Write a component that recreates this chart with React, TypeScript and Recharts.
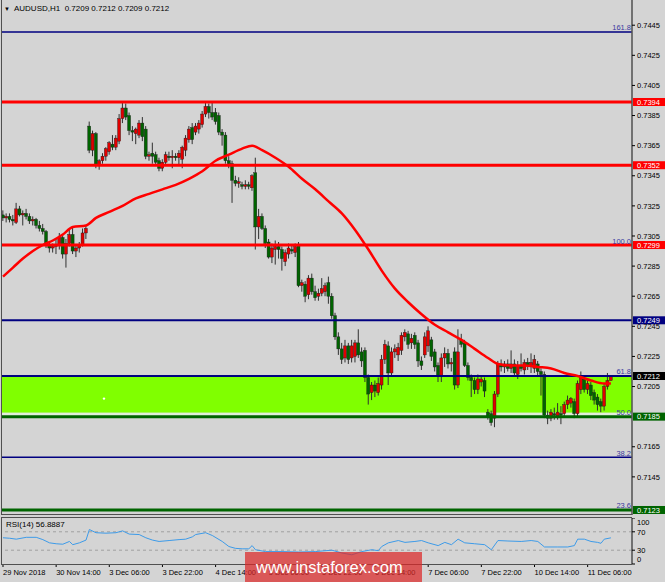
import {
  ComposedChart,
  LineChart,
  Bar,
  Line,
  XAxis,
  YAxis,
  ReferenceLine,
  ReferenceArea,
  ReferenceDot
} from 'recharts'

// AUDUSD H1 candles, 29 Nov 22:00 .. 11 Dec 11:00
const opens = [
  0.7319, 0.7317, 0.7318, 0.7316, 0.7314, 0.7323, 0.7319, 0.7320, 0.7318, 0.7315,
  0.7316, 0.7312, 0.7310, 0.7308, 0.7299, 0.7297, 0.7298, 0.7299, 0.7304, 0.7293,
  0.7300, 0.7306, 0.7295, 0.7297, 0.7299, 0.7307, 0.7378, 0.7362, 0.7373, 0.7352,
  0.7355, 0.7358, 0.7361, 0.7366, 0.7364, 0.7368, 0.7383, 0.7390, 0.7385, 0.7375,
  0.7373, 0.7372, 0.7380, 0.7376, 0.7358, 0.7360, 0.7359, 0.7355, 0.7350, 0.7354,
  0.7358, 0.7357, 0.7358, 0.7357, 0.7356, 0.7362, 0.7369, 0.7377, 0.7374, 0.7376,
  0.7379, 0.7386, 0.7391, 0.7387, 0.7387, 0.7385, 0.7374, 0.7372, 0.7355, 0.7353,
  0.7342, 0.7340, 0.7339, 0.7338, 0.7339, 0.7337, 0.7347, 0.7311, 0.7318, 0.7310,
  0.7301, 0.7291, 0.7296, 0.7298, 0.7296, 0.7288, 0.7293, 0.7296, 0.7294, 0.7299,
  0.7272, 0.7273, 0.7266, 0.7277, 0.7268, 0.7265, 0.7267, 0.7268, 0.7274, 0.7265,
  0.7252, 0.7238, 0.7230, 0.7224, 0.7232, 0.7224, 0.7225, 0.7234, 0.7228, 0.7229,
  0.7211, 0.7201, 0.7206, 0.7201, 0.7206, 0.7223, 0.7232, 0.7214, 0.7228, 0.7226,
  0.7229, 0.7238, 0.7240, 0.7234, 0.7239, 0.7234, 0.7222, 0.7226, 0.7232, 0.7236,
  0.7228, 0.7219, 0.7212, 0.7224, 0.7227, 0.7220, 0.7228, 0.7206, 0.7236, 0.7234,
  0.7219, 0.7211, 0.7209, 0.7203, 0.7208, 0.7209, 0.7188, 0.7187, 0.7184, 0.7200,
  0.7220, 0.7218, 0.7220, 0.7217, 0.7220, 0.7213, 0.7219, 0.7216, 0.7221, 0.7219,
  0.7217, 0.7220, 0.7215, 0.7213, 0.7186, 0.7184, 0.7187, 0.7185, 0.7187, 0.7187,
  0.7193, 0.7194, 0.7195, 0.7187, 0.7203, 0.7210, 0.7203, 0.7206, 0.7201, 0.7198,
  0.7195, 0.7192, 0.7205, 0.7209
]
const highs = [
  0.7322, 0.7320, 0.7320, 0.7319, 0.7327, 0.7325, 0.7322, 0.7323, 0.7320, 0.7318,
  0.7317, 0.7315, 0.7313, 0.7309, 0.7301, 0.7300, 0.7303, 0.7307, 0.7306, 0.7303,
  0.7309, 0.7311, 0.7299, 0.7301, 0.7310, 0.7312, 0.7381, 0.7375, 0.7374, 0.7356,
  0.7360, 0.7364, 0.7368, 0.7372, 0.7372, 0.7386, 0.7394, 0.7393, 0.7387, 0.7378,
  0.7377, 0.7382, 0.7384, 0.7378, 0.7361, 0.7367, 0.7361, 0.7357, 0.7356, 0.7361,
  0.7361, 0.7362, 0.7360, 0.7362, 0.7365, 0.7372, 0.7378, 0.7380, 0.7380, 0.7382,
  0.7388, 0.7394, 0.7393, 0.7394, 0.7390, 0.7387, 0.7376, 0.7374, 0.7358, 0.7355,
  0.7345, 0.7344, 0.7341, 0.7342, 0.7341, 0.7346, 0.7357, 0.7323, 0.7320, 0.7312,
  0.7303, 0.7300, 0.7302, 0.7301, 0.7298, 0.7296, 0.7300, 0.7299, 0.7300, 0.7301,
  0.7276, 0.7275, 0.7279, 0.7280, 0.7272, 0.7270, 0.7277, 0.7274, 0.7278, 0.7267,
  0.7254, 0.7241, 0.7234, 0.7236, 0.7234, 0.7236, 0.7236, 0.7243, 0.7231, 0.7231,
  0.7213, 0.7208, 0.7209, 0.7211, 0.7226, 0.7236, 0.7235, 0.7231, 0.7233, 0.7234,
  0.7241, 0.7243, 0.7242, 0.7240, 0.7241, 0.7236, 0.7225, 0.7241, 0.7245, 0.7238,
  0.7230, 0.7221, 0.7227, 0.7231, 0.7230, 0.7224, 0.7231, 0.7243, 0.7240, 0.7236,
  0.7221, 0.7213, 0.7211, 0.7213, 0.7212, 0.7211, 0.7190, 0.7189, 0.7202, 0.7222,
  0.7223, 0.7222, 0.7223, 0.7229, 0.7223, 0.7222, 0.7227, 0.7223, 0.7224, 0.7227,
  0.7226, 0.7222, 0.7217, 0.7215, 0.7189, 0.7190, 0.7191, 0.7194, 0.7192, 0.7195,
  0.7199, 0.7198, 0.7197, 0.7209, 0.7215, 0.7212, 0.7209, 0.7208, 0.7203, 0.7200,
  0.7197, 0.7207, 0.7214, 0.7212
]
const lows = [
  0.7315, 0.7314, 0.7314, 0.7312, 0.7313, 0.7318, 0.7312, 0.7316, 0.7313, 0.7312,
  0.7310, 0.7308, 0.7306, 0.7297, 0.7294, 0.7294, 0.7293, 0.7296, 0.7290, 0.7284,
  0.7298, 0.7293, 0.7291, 0.7294, 0.7298, 0.7303, 0.7360, 0.7358, 0.7350, 0.7349,
  0.7353, 0.7355, 0.7359, 0.7362, 0.7362, 0.7366, 0.7380, 0.7382, 0.7372, 0.7368,
  0.7366, 0.7370, 0.7368, 0.7356, 0.7355, 0.7353, 0.7352, 0.7348, 0.7348, 0.7352,
  0.7355, 0.7350, 0.7355, 0.7352, 0.7350, 0.7358, 0.7367, 0.7366, 0.7372, 0.7373,
  0.7377, 0.7384, 0.7383, 0.7382, 0.7379, 0.7372, 0.7365, 0.7353, 0.7350, 0.7327,
  0.7338, 0.7337, 0.7336, 0.7336, 0.7336, 0.7335, 0.7296, 0.7303, 0.7309, 0.7297,
  0.7290, 0.7287, 0.7286, 0.7290, 0.7282, 0.7285, 0.7290, 0.7293, 0.7291, 0.7271,
  0.7268, 0.7261, 0.7263, 0.7266, 0.7262, 0.7262, 0.7265, 0.7265, 0.7260, 0.7250,
  0.7236, 0.7226, 0.7220, 0.7221, 0.7220, 0.7221, 0.7221, 0.7224, 0.7218, 0.7208,
  0.7193, 0.7196, 0.7198, 0.7199, 0.7203, 0.7220, 0.7206, 0.7212, 0.7224, 0.7222,
  0.7226, 0.7235, 0.7230, 0.7230, 0.7230, 0.7218, 0.7216, 0.7224, 0.7228, 0.7222,
  0.7215, 0.7208, 0.7208, 0.7218, 0.7217, 0.7215, 0.7203, 0.7204, 0.7231, 0.7218,
  0.7209, 0.7198, 0.7200, 0.7200, 0.7205, 0.7198, 0.7183, 0.7179, 0.7178, 0.7198,
  0.7215, 0.7214, 0.7215, 0.7214, 0.7212, 0.7210, 0.7215, 0.7213, 0.7216, 0.7214,
  0.7214, 0.7212, 0.7199, 0.7184, 0.7180, 0.7182, 0.7183, 0.7183, 0.7180, 0.7185,
  0.7190, 0.7191, 0.7184, 0.7185, 0.7200, 0.7201, 0.7200, 0.7196, 0.7193, 0.7189,
  0.7188, 0.7189, 0.7203, 0.7209
]
const closes = [
  0.7317, 0.7318, 0.7316, 0.7315, 0.7323, 0.7319, 0.7320, 0.7318, 0.7315, 0.7316,
  0.7312, 0.7310, 0.7308, 0.7299, 0.7297, 0.7298, 0.7299, 0.7304, 0.7293, 0.7300,
  0.7306, 0.7295, 0.7297, 0.7299, 0.7307, 0.7310, 0.7362, 0.7373, 0.7352, 0.7355,
  0.7358, 0.7363, 0.7367, 0.7364, 0.7370, 0.7383, 0.7390, 0.7384, 0.7375, 0.7374,
  0.7376, 0.7380, 0.7371, 0.7358, 0.7359, 0.7358, 0.7354, 0.7350, 0.7354, 0.7359,
  0.7357, 0.7358, 0.7357, 0.7360, 0.7364, 0.7370, 0.7376, 0.7369, 0.7378, 0.7380,
  0.7386, 0.7391, 0.7387, 0.7384, 0.7381, 0.7374, 0.7372, 0.7355, 0.7353, 0.7342,
  0.7340, 0.7341, 0.7338, 0.7339, 0.7338, 0.7345, 0.7311, 0.7318, 0.7310, 0.7300,
  0.7291, 0.7297, 0.7298, 0.7296, 0.7290, 0.7294, 0.7297, 0.7295, 0.7298, 0.7272,
  0.7274, 0.7265, 0.7277, 0.7268, 0.7264, 0.7267, 0.7270, 0.7272, 0.7265, 0.7252,
  0.7238, 0.7230, 0.7223, 0.7232, 0.7223, 0.7232, 0.7234, 0.7226, 0.7222, 0.7211,
  0.7200, 0.7206, 0.7202, 0.7207, 0.7223, 0.7233, 0.7214, 0.7228, 0.7230, 0.7231,
  0.7239, 0.7241, 0.7233, 0.7237, 0.7233, 0.7222, 0.7219, 0.7238, 0.7242, 0.7225,
  0.7218, 0.7212, 0.7224, 0.7227, 0.7220, 0.7221, 0.7206, 0.7228, 0.7233, 0.7219,
  0.7211, 0.7209, 0.7203, 0.7210, 0.7210, 0.7202, 0.7185, 0.7181, 0.7200, 0.7220,
  0.7218, 0.7220, 0.7217, 0.7220, 0.7214, 0.7219, 0.7217, 0.7221, 0.7219, 0.7221,
  0.7223, 0.7215, 0.7213, 0.7186, 0.7184, 0.7188, 0.7186, 0.7188, 0.7186, 0.7193,
  0.7196, 0.7197, 0.7187, 0.7207, 0.7211, 0.7203, 0.7207, 0.7199, 0.7196, 0.7193,
  0.7192, 0.7205, 0.7209, 0.7212
]

// red moving average, read every few bars
const maIdx = [
  0, 3, 6, 9, 12, 15, 18, 21, 25, 28, 32, 36, 40, 44, 48, 52, 56, 60, 64, 68,
  72, 75, 78, 82, 86, 90, 94, 98, 102, 106, 110, 114, 118, 122, 126, 130, 134, 138, 142, 146,
  149, 153, 157, 161, 165, 169, 173, 177, 181, 183
]
const maVals = [
  0.7278, 0.7284, 0.7290, 0.7295, 0.7299, 0.7302, 0.7306, 0.7311, 0.7312, 0.7317,
  0.7321, 0.7325, 0.7330, 0.7333, 0.7336, 0.7339, 0.7343, 0.7348, 0.7355, 0.7359,
  0.7363, 0.7365, 0.7362, 0.7357, 0.7351, 0.7343, 0.7336, 0.7328, 0.7320, 0.7309,
  0.7296, 0.7282, 0.7270, 0.7261, 0.7253, 0.7246, 0.7241, 0.7236, 0.7230, 0.7224,
  0.7220, 0.7219, 0.7219, 0.7218, 0.7217, 0.7214, 0.7212, 0.7209, 0.7207, 0.7207
]

// RSI(14)
const rsiIdx = [
  0, 2, 4, 7, 10, 12, 14, 16, 18, 20, 21, 23, 25, 26, 28, 31, 34, 36, 38, 41,
  43, 45, 47, 50, 53, 55, 57, 58, 61, 63, 66, 68, 70, 72, 74, 75, 76, 79, 84, 89,
  94, 99, 102, 105, 108, 111, 113, 114, 116, 119, 121, 124, 126, 128, 131, 133, 135, 137, 139, 142,
  145, 147, 149, 152, 156, 159, 161, 163, 167, 170, 172, 173, 175, 177, 179, 180, 181, 183
]
const rsiVals = [
  57, 56, 54, 58, 58, 53, 46, 44, 43, 49, 42, 46, 52, 75, 68, 67, 68, 72, 65, 64,
  57, 52, 49, 51, 53, 54, 59, 64, 68, 62, 49, 38, 34, 33, 33, 40, 31, 27, 27, 26,
  27, 30, 24, 20, 27, 31, 29, 38, 46, 51, 47, 49, 51, 46, 40, 47, 42, 54, 46, 44,
  42, 31, 51, 50, 49, 51, 49, 37, 37, 37, 40, 54, 54, 49, 47, 45, 54, 56.89
]

// horizontal levels
const levelPrices = [0.74405, 0.7394, 0.7352, 0.7299, 0.7249, 0.7212, 0.7185, 0.7158, 0.7123]
const fibLabels = ['161.8', '', '', '100.0', '', '61.8', '50.0', '38.2', '23.6']
const zoneLow = 0.71876
const zoneHigh = 0.7212
const zoneEdge = 0.71858

// 0.7125 and 0.7185 sit under the price tags, so they are not drawn
const priceTicks = [
  0.7145, 0.7165, 0.7205, 0.7225, 0.7245, 0.7265, 0.7285,
  0.7305, 0.7325, 0.7345, 0.7365, 0.7385, 0.7405, 0.7425, 0.7445
]
const timeTickIdx = [0, 16, 32, 48, 64, 80, 96, 112, 128, 144, 160, 176]
const timeLabels = [
  '29 Nov 2018', '30 Nov 14:00', '3 Dec 06:00', '3 Dec 22:00', '4 Dec 14:00', '5 Dec 06:00',
  '5 Dec 22:00', '6 Dec 14:00', '7 Dec 06:00', '7 Dec 22:00', '10 Dec 14:00', '11 Dec 06:00'
]
const markerIdx = 30.4
const markerPrice = 0.7197

const rows = opens.map((o, i) => ({
  i,
  o,
  h: highs[i],
  l: lows[i],
  c: closes[i],
  range: [lows[i], highs[i]]
}))
const maData = maIdx.map((i, k) => ({ i, ma: maVals[k] }))
const rsiData = rsiIdx.map((i, k) => ({ i, rsi: rsiVals[k] }))

const FONT = 'Liberation Sans, Arial, sans-serif'
const X_DOMAIN = [-0.6, 189.35]
const Y_DOMAIN = [0.711967, 0.746175]

const NAVY = '#000080'
const RED = '#ff0000'
const DKGREEN = '#006400'
const levelStyle = [
  { stroke: NAVY, w: 1.5, tag: '' },
  { stroke: RED, w: 3, tag: RED },
  { stroke: RED, w: 3, tag: RED },
  { stroke: RED, w: 3, tag: RED },
  { stroke: NAVY, w: 2, tag: NAVY },
  { stroke: NAVY, w: 2, tag: '#000000' },
  { stroke: DKGREEN, w: 3, tag: DKGREEN },
  { stroke: NAVY, w: 1.5, tag: '' },
  { stroke: DKGREEN, w: 3, tag: DKGREEN }
]

const Candle = (props: any) => {
  const { x, y, width, height, payload } = props
  if (x == null || payload == null) return null
  const { o, h, l, c } = payload
  const top = Math.min(y, y + height)
  const span = Math.abs(height)
  const toY = (p: number) => (h === l ? top : top + ((h - p) / (h - l)) * span)
  const cx = x + width / 2
  const bTop = toY(Math.max(o, c))
  const bBot = toY(Math.min(o, c))
  const up = c >= o
  return (
    <g>
      <line x1={cx} x2={cx} y1={top} y2={top + span} stroke="#303030" strokeWidth={1} />
      <rect
        x={cx - 1.5}
        y={bTop}
        width={3}
        height={Math.max(1, bBot - bTop)}
        fill={up ? '#e00000' : '#006400'}
        stroke="#1a1a1a"
        strokeWidth={0.4}
      />
    </g>
  )
}

const Tag = (props: any) => {
  const { viewBox, text, bg, fib } = props
  if (!viewBox) return null
  const right = viewBox.x + viewBox.width
  const y = viewBox.y
  return (
    <g>
      {fib ? (
        <text x={right - 1} y={y - 1.5} textAnchor="end" fontSize={7.5} fontFamily={FONT} fill="#3a3aa0">
          {fib}
        </text>
      ) : null}
      {text ? (
        <g>
          <rect x={right + 1} y={y - 4} width={32} height={8} fill={bg} />
          <text x={right + 5} y={y + 2.7} fontSize={7.5} fontFamily={FONT} fill="#ffffff">
            {text}
          </text>
        </g>
      ) : null}
    </g>
  )
}

const RsiTick = (props: any) => {
  const { x, y, payload } = props
  const v = payload.value
  const dy = v === 100 ? 4.7 : v === 0 ? -4.7 : 0
  return (
    <text x={x} y={y + dy + 2.7} fontSize={7.5} fontFamily={FONT} fill="#000">
      {v}
    </text>
  )
}

const TimeTick = (props: any) => {
  const { x, y, payload } = props
  const k = timeTickIdx.indexOf(payload.value)
  return (
    <text x={x} y={y + 7.5} fontSize={7.5} fontFamily={FONT} fill="#000">
      {timeLabels[k]}
    </text>
  )
}

export default function App() {
  return (
    <div
      style={{
        position: 'absolute',
        left: 0,
        top: 0,
        width: 665,
        height: 582,
        background: '#d4d4d4',
        overflow: 'hidden',
        fontFamily: FONT
      }}
    >
      <div style={{ position: 'absolute', left: 0, top: 0 }}>
        <ComposedChart width={665} height={515} data={rows} margin={{ top: 0, right: 0, bottom: 0, left: 1 }}>
          <XAxis dataKey="i" type="number" domain={X_DOMAIN} hide allowDataOverflow />
          <YAxis
            orientation="right"
            width={33}
            domain={Y_DOMAIN}
            allowDataOverflow
            ticks={priceTicks}
            interval={0}
            tickFormatter={(v: number) => v.toFixed(4)}
            tick={{ fontSize: 7.5, fill: '#000', fontFamily: FONT }}
            tickSize={3}
            tickMargin={2}
            axisLine={{ stroke: '#505050', strokeWidth: 1.5 }}
            tickLine={{ stroke: '#000' }}
          />
          <ReferenceArea y1={zoneLow} y2={zoneHigh} fill="#80ff00" fillOpacity={1} stroke="none" />
          <ReferenceArea y1={zoneEdge} y2={zoneLow} fill="#e2eedb" fillOpacity={1} stroke="none" />
          <Bar dataKey="range" barSize={3} shape={<Candle />} isAnimationActive={false} />
          {levelPrices.map((p, k) => (
            <ReferenceLine
              key={p}
              y={p}
              stroke={levelStyle[k].stroke}
              strokeWidth={levelStyle[k].w}
              label={
                <Tag
                  text={levelStyle[k].tag ? p.toFixed(4) : ''}
                  bg={levelStyle[k].tag}
                  fib={fibLabels[k]}
                />
              }
            />
          ))}
          <Line
            data={maData}
            dataKey="ma"
            type="monotone"
            stroke="#ff0000"
            strokeWidth={2.5}
            dot={false}
            isAnimationActive={false}
          />
          <ReferenceDot x={markerIdx} y={markerPrice} r={1.2} fill="#ffffff" stroke="none" />
        </ComposedChart>
      </div>

      <div style={{ position: 'absolute', left: 0, top: 518 }}>
        <LineChart width={665} height={64} data={rsiData} margin={{ top: 0, right: 0, bottom: 0, left: 1 }}>
          <XAxis
            dataKey="i"
            type="number"
            domain={X_DOMAIN}
            allowDataOverflow
            ticks={timeTickIdx}
            interval={0}
            height={18}
            axisLine={false}
            tickSize={3}
            tickMargin={0}
            tickLine={{ stroke: '#000' }}
            tick={<TimeTick />}
          />
          <YAxis
            orientation="right"
            width={33}
            domain={[0, 100]}
            ticks={[0, 30, 70, 100]}
            interval={0}
            tickSize={3}
            tickMargin={2}
            axisLine={{ stroke: '#505050', strokeWidth: 1.5 }}
            tickLine={{ stroke: '#000' }}
            tick={<RsiTick />}
          />
          <ReferenceLine y={70} stroke="#a0a0a0" strokeDasharray="3 3" />
          <ReferenceLine y={30} stroke="#a0a0a0" strokeDasharray="3 3" />
          <Line dataKey="rsi" type="linear" stroke="#3d9be9" strokeWidth={1} dot={false} isAnimationActive={false} />
        </LineChart>
      </div>

      {/* panel frames */}
      <div style={{ position: 'absolute', left: 1, top: 0, width: 1, height: 515, background: '#505050' }} />
      <div style={{ position: 'absolute', left: 1, top: 514, width: 631, height: 1, background: '#505050' }} />
      <div
        style={{
          position: 'absolute',
          left: 1,
          top: 517,
          width: 631,
          height: 48,
          border: '1px solid #505050',
          borderRight: 'none',
          boxSizing: 'border-box'
        }}
      />

      <div style={{ position: 'absolute', left: 4, top: 4, fontSize: 8, color: '#000', whiteSpace: 'pre' }}>
        <span style={{ fontSize: 6 }}>▼</span>
        {'  AUDUSD,H1  0.7209 0.7212 0.7209 0.7212'}
      </div>
      <div style={{ position: 'absolute', left: 6, top: 520, fontSize: 8, color: '#000' }}>RSI(14) 56.8887</div>

      <div
        style={{
          position: 'absolute',
          left: 245,
          top: 552,
          width: 177,
          height: 30,
          background: 'rgba(220, 40, 40, 0.72)',
          color: '#fff',
          fontSize: 16.5,
          lineHeight: '30px',
          paddingLeft: 11,
          boxSizing: 'border-box'
        }}
      >
        www.instaforex.com
      </div>
    </div>
  )
}
